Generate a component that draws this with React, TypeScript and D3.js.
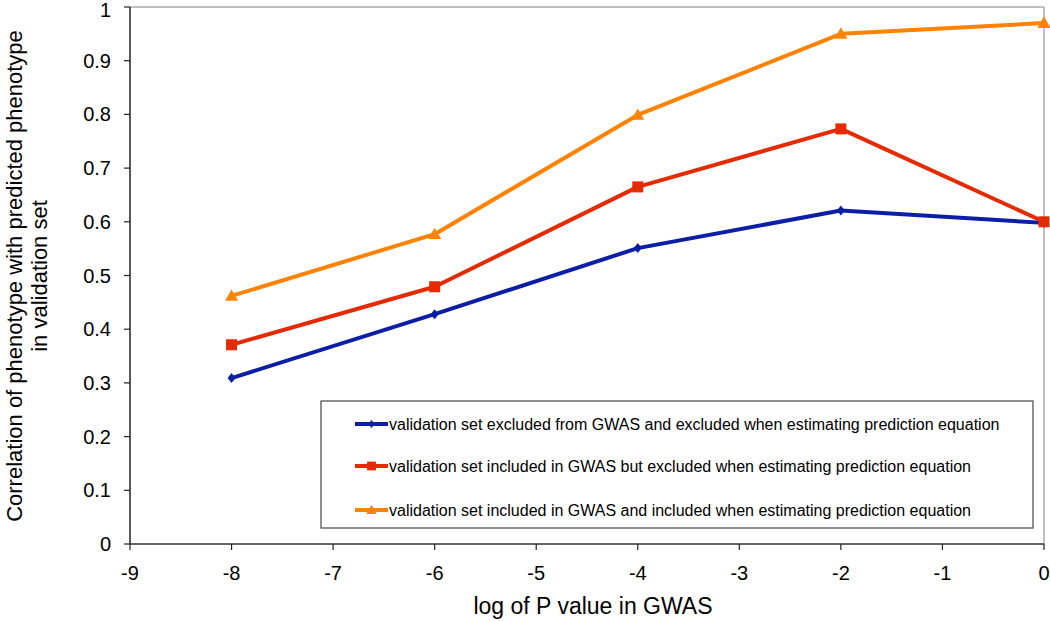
import React from "react";
import * as d3 from "d3";

const xValues = [-8, -6, -4, -2, 0];
const excludedBoth = [0.309, 0.428, 0.551, 0.621, 0.598];
const includedGwasOnly = [0.371, 0.479, 0.665, 0.773, 0.6];
const includedBoth = [0.462, 0.577, 0.799, 0.95, 0.97];
const xTicks = [-9, -8, -7, -6, -5, -4, -3, -2, -1, 0];
const yTicks = [0, 0.1, 0.2, 0.3, 0.4, 0.5, 0.6, 0.7, 0.8, 0.9, 1];
const seriesNames = [
  "validation set excluded from GWAS and excluded when estimating prediction equation",
  "validation set included in GWAS but excluded when estimating prediction equation",
  "validation set included in GWAS and included when estimating prediction equation",
];
const seriesColors = ["#0c1ea6", "#e42a00", "#ff8300"];
const seriesMarkers = ["diamond", "square", "triangle"];

const W = 1050;
const H = 621;
const M = { left: 130, right: 1044, top: 7, bottom: 544 };
const FONT = "'Liberation Sans', Arial, Helvetica, sans-serif";

function Marker({ type, x, y, color, small }: { type: string; x: number; y: number; color: string; small?: boolean }) {
  const s = small ? 0.8 : 1;
  if (type === "square") {
    const r = 5.5 * s;
    return <rect x={x - r} y={y - r} width={2 * r} height={2 * r} fill={color} />;
  }
  if (type === "triangle") {
    const r = 6.5 * s;
    return <path d={`M${x},${y - r} L${x + r},${y + r * 0.75} L${x - r},${y + r * 0.75} Z`} fill={color} />;
  }
  const r = 5 * s;
  return <path d={`M${x},${y - r} L${x + r * 0.8},${y} L${x},${y + r} L${x - r * 0.8},${y} Z`} fill={color} />;
}

export default function App() {
  const x = d3.scaleLinear().domain([-9, 0]).range([M.left, M.right]);
  const y = d3.scaleLinear().domain([0, 1]).range([M.bottom, M.top]);
  const seriesData = [excludedBoth, includedGwasOnly, includedBoth];
  const line = d3
    .line<number>()
    .x((_, i) => x(xValues[i]))
    .y((d) => y(d));

  const legend = { x: 321, y: 401, w: 712, h: 127 };
  const rowY = [424, 466, 510];

  return (
    <svg width={W} height={H} style={{ position: "absolute", left: 0, top: 0, background: "#fff" }} fontFamily={FONT}>
      <rect x={0} y={0} width={W} height={H} fill="#fff" />
      {/* frame */}
      <line x1={M.left} x2={M.right} y1={M.top} y2={M.top} stroke="#aaa" strokeWidth={1.5} />
      <line x1={M.right} x2={M.right} y1={M.top} y2={M.bottom} stroke="#aaa" strokeWidth={1.5} />
      <line x1={M.left} x2={M.left} y1={M.top} y2={M.bottom} stroke="#222" strokeWidth={1.5} />
      <line x1={M.left} x2={M.right} y1={M.bottom} y2={M.bottom} stroke="#333" strokeWidth={1.5} />
      {yTicks.map((t) => (
        <g key={"y" + t}>
          <line x1={M.left - 6} x2={M.left} y1={y(t)} y2={y(t)} stroke="#222" strokeWidth={1.2} />
          <text x={111} y={Math.max(y(t), 10)} dy="0.35em" textAnchor="end" fontSize={20} fill="#000">
            {String(t)}
          </text>
        </g>
      ))}
      {xTicks.map((t) => (
        <g key={"x" + t}>
          <line x1={x(t)} x2={x(t)} y1={M.bottom} y2={M.bottom + 6} stroke="#222" strokeWidth={1.2} />
          <text x={x(t)} y={573} dy="0.35em" textAnchor="middle" fontSize={20} fill="#000">
            {String(t)}
          </text>
        </g>
      ))}
      <text x={593} y={606} dy="0.35em" textAnchor="middle" fontSize={23} fill="#000">
        log of P value in GWAS
      </text>
      <text transform="translate(14,276) rotate(-90)" dy="0.35em" textAnchor="middle" fontSize={22} fill="#000">
        Correlation of phenotype with predicted phenotype
      </text>
      <text transform="translate(39,276) rotate(-90)" dy="0.35em" textAnchor="middle" fontSize={22} fill="#000">
        in validation set
      </text>
      {/* legend box */}
      <rect x={legend.x} y={legend.y} width={legend.w} height={legend.h} fill="#fff" stroke="#555" strokeWidth={1.3} />
      {seriesData.map((data, si) => (
        <g key={"s" + si}>
          <path d={line(data) || ""} fill="none" stroke={seriesColors[si]} strokeWidth={4} strokeLinejoin="round" />
          {data.map((d, i) => (
            <Marker key={i} type={seriesMarkers[si]} x={x(xValues[i])} y={y(d)} color={seriesColors[si]} />
          ))}
        </g>
      ))}
      {seriesNames.map((name, si) => (
        <g key={"l" + si}>
          <line x1={355} x2={388} y1={rowY[si]} y2={rowY[si]} stroke={seriesColors[si]} strokeWidth={4} />
          <Marker type={seriesMarkers[si]} x={371.5} y={rowY[si]} color={seriesColors[si]} small />
          <text x={389} y={rowY[si]} dy="0.35em" fontSize={16} fill="#000">
            {name}
          </text>
        </g>
      ))}
    </svg>
  );
}
